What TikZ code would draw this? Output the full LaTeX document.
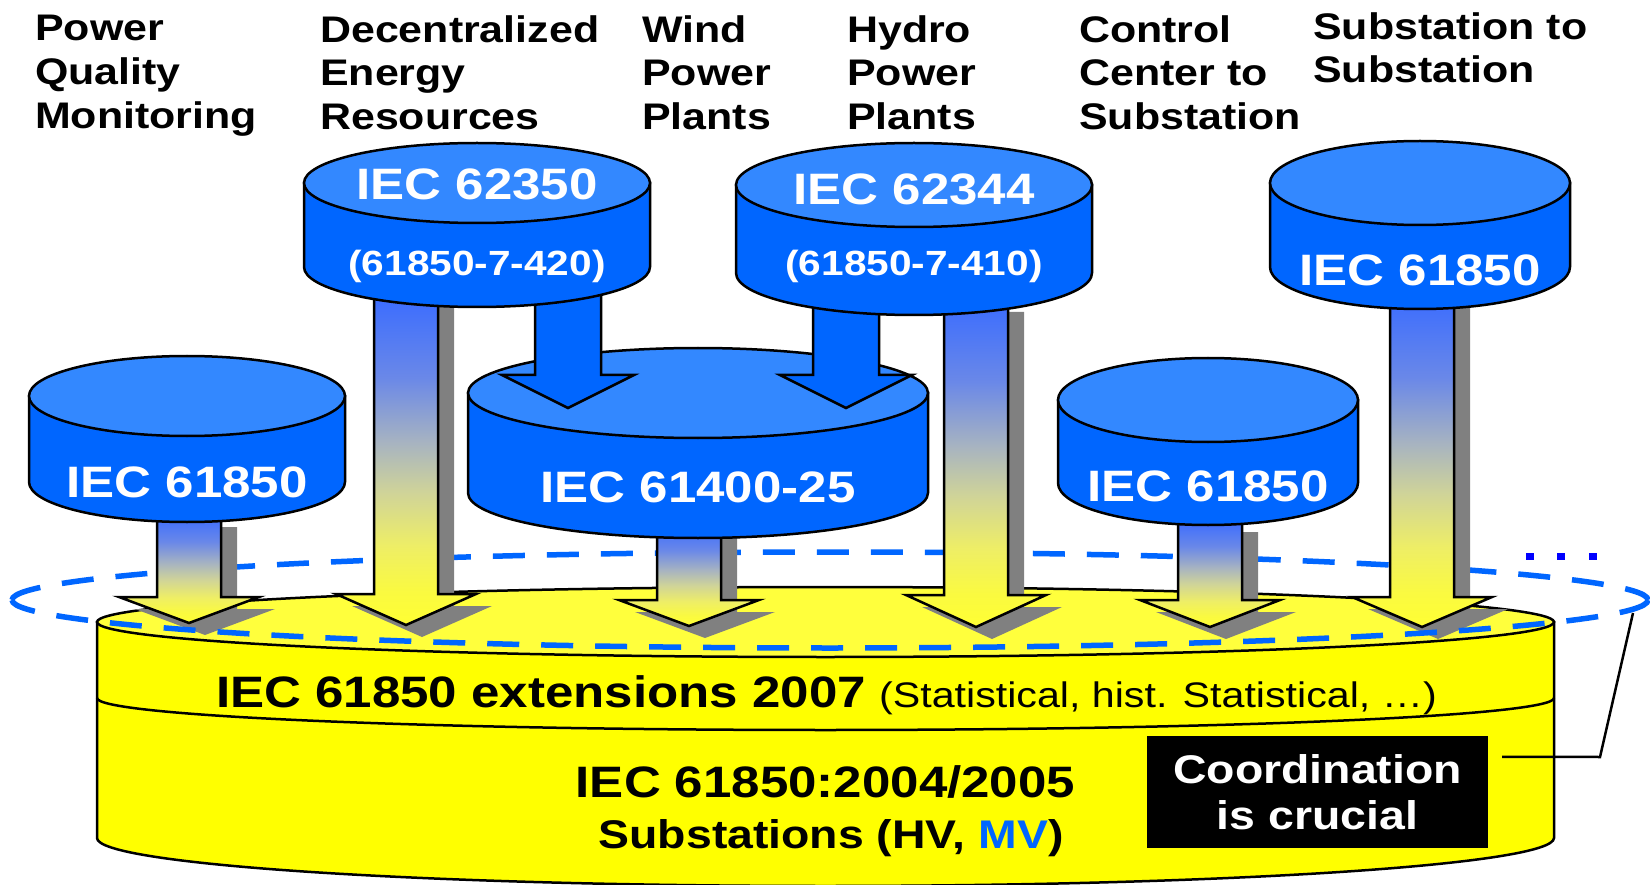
\documentclass[tikz,border=0pt]{standalone}
\usepackage{fontspec}
\setmainfont[FakeStretch=1.16]{Liberation Sans}
\usetikzlibrary{calc}
\definecolor{cyltop}{RGB}{51,136,255}
\definecolor{cylside}{RGB}{0,102,255}
\definecolor{ybody}{RGB}{255,255,0}
\definecolor{ytop}{RGB}{255,255,60}
\definecolor{dashblue}{RGB}{0,102,255}
\definecolor{dotblue}{RGB}{0,0,255}
\definecolor{shgray}{RGB}{128,128,128}
\definecolor{sA}{RGB}{255,255,51}
\definecolor{sB}{RGB}{250,250,64}
\definecolor{sC}{RGB}{238,238,102}
\definecolor{sD}{RGB}{208,212,152}
\definecolor{sE}{RGB}{168,180,192}
\definecolor{sF}{RGB}{106,136,232}
\definecolor{sG}{RGB}{58,108,255}
\pgfdeclareverticalshading{arrowshade}{100bp}{color(0bp)=(sA); color(25bp)=(sA); color(30bp)=(sB); color(37bp)=(sC); color(45bp)=(sD); color(52.5bp)=(sE); color(62.5bp)=(sF); color(75bp)=(sG); color(100bp)=(sG)}
\tikzset{
  outl/.style={draw=black,line width=2.5pt,line join=miter},
  dashell/.style={draw=dashblue,line width=5.5pt,dash pattern=on 32pt off 22pt},
  toplbl/.style={anchor=north west,inner sep=0pt,align=left,font=\bfseries\fontsize{37}{43.7}\selectfont},
  cyllbl/.style={inner sep=0pt,text=white,font=\bfseries\fontsize{44}{50}\selectfont},
  cylsub/.style={inner sep=0pt,text=white,font=\bfseries\fontsize{35}{40}\selectfont},
}
\newcommand\gradarrow[5]{%
  \coordinate (#1top) at (#2,#3);
  \coordinate (#1tip) at (#2,#5);
  \begin{scope}[shift={(#2,0)}]
    \fill[shgray] (-16,{#3+12}) -- (-16,{#4+12}) -- (-54,{#4+12}) -- (16,{#5+12}) -- (86,{#4+12}) -- (48,{#4+12}) -- (48,{#3+12}) -- cycle;
    \draw[outl,shade,shading=arrowshade] (-32,#3) -- (-32,#4) -- (-70,#4) -- (0,#5) -- (70,#4) -- (32,#4) -- (32,#3) -- cycle;
  \end{scope}}
\newcommand\bluearrow[5]{%
  \coordinate (#1top) at (#2,#3);
  \coordinate (#1tip) at (#2,#5);
  \begin{scope}[shift={(#2,0)}]
    \draw[outl,fill=cylside] (-33,#3) -- (-33,#4) -- (-66,#4) -- (0,#5) -- (66,#4) -- (33,#4) -- (33,#3) -- cycle;
  \end{scope}}
\newcommand\bluecyl[6]{%
  \begin{scope}[shift={(#2,0)}]
    \draw[outl,fill=cylside] (-#5,#3) -- (-#5,#4) arc[start angle=180,end angle=0,x radius=#5,y radius=#6] -- (#5,#3) -- cycle;
    \draw[outl,fill=cyltop] (0,#3) ellipse[x radius=#5,y radius=#6];
  \end{scope}
  \coordinate (#1) at (#2,#4);}
\begin{document}
\begin{tikzpicture}[x=1pt,y=-1pt]
\path[use as bounding box] (0,0) rectangle (1650,885);
\clip (0,0) rectangle (1650,885);
\fill[white] (0,0) rectangle (1650,885);
% yellow base cylinder
\draw[outl,fill=ybody] (97,622) -- (97,838) arc[start angle=180,end angle=0,x radius=728.5,y radius=48] -- (1554,622) -- cycle;
\draw[outl] (97,698) arc[start angle=180,end angle=0,x radius=728.5,y radius=32];
\draw[outl,fill=ytop] (825.5,622) ellipse[x radius=728.5,y radius=35];
% dashed ellipse, back half
\draw[dashell] (12,600) arc[start angle=180,end angle=360,x radius=818,y radius=48];
% gradient arrows to the base
\gradarrow{aA}{189}{515}{597}{623}
\gradarrow{aB}{406}{295}{594}{625}
\gradarrow{aC}{689}{525}{600}{626}
\gradarrow{aD}{976}{300}{595}{627}
\gradarrow{aE}{1210}{520}{600}{627}
\gradarrow{aF}{1422}{295}{597}{627}
% dashed ellipse, front half
\draw[dashell] (1648,600) arc[start angle=0,end angle=180,x radius=818,y radius=48];
% dots
\foreach \i/\xx in {1/1530,2/1561,3/1593}
  \fill[dotblue] ({\xx-4},553) rectangle ({\xx+4},560);
% blue cylinders
\bluecyl{c1}{187}{396}{482}{158}{40}
\bluecyl{c5}{1208}{400}{483}{150}{42}
\bluecyl{c4}{1420}{183}{267}{150}{42}
\bluecyl{c6}{698}{393}{493}{230}{45}
\bluearrow{aG}{568}{290}{375}{408}
\bluearrow{aH}{846}{295}{375}{408}
\bluecyl{c2}{477}{183}{267}{173}{40}
\bluecyl{c3}{914}{185}{273}{178}{42}
% cylinder labels
\node[cyllbl] (t1) at (187,482) {IEC 61850};
\node[cyllbl] (t2a) at (477,184) {IEC 62350};
\node[cylsub] (t2b) at (477,266) {(61850-7-420)};
\node[cyllbl] (t3a) at (914,189) {IEC 62344};
\node[cylsub] (t3b) at (914,266) {(61850-7-410)};
\node[cyllbl] (t4) at (1420,270) {IEC 61850};
\node[cyllbl] (t5) at (1208,486) {IEC 61850};
\node[cyllbl] (t6) at (698,487) {IEC 61400-25};
% top labels
\node[toplbl] (l1) at (35,15) {Power\\Quality\\Monitoring};
\node[toplbl] (l2) at (320,15) {Decentralized\\Energy\\Resources};
\node[toplbl] (l3) at (642,15) {Wind\\Power\\Plants};
\node[toplbl] (l4) at (847,15) {Hydro\\Power\\Plants};
\node[toplbl] (l5) at (1079,15) {Control\\Center to\\Substation};
\node[toplbl] (l6) at (1313,12) {Substation to\\Substation};
% base texts
\node[anchor=base west,inner sep=0pt] (ext) at (216,707) {{\bfseries\fontsize{44}{50}\selectfont IEC 61850 extensions 2007}\hspace{10pt} {\fontsize{35.5}{40}\selectfont (Statistical, hist. Statistical, …)}};
\node[anchor=base,inner sep=0pt,font=\bfseries\fontsize{44}{50}\selectfont] (ed1) at (825.5,797) {IEC 61850:2004/2005};
\node[anchor=base,inner sep=0pt,font=\bfseries\fontsize{40}{46}\selectfont] (sub) at (831,848) {Substations (HV, \textcolor{cylside}{MV})};
% coordination box
\node[fill=black,text=white,minimum width=341pt,minimum height=112pt,inner sep=0pt,align=center,font=\bfseries\fontsize{40}{46}\selectfont] (coord) at (1317.5,792) {Coordination\\is crucial};
\coordinate (cc1) at (1600,757);
\coordinate (cc2) at (1633,613);
\draw[black,line width=2.5pt] ($(coord.north east)+(14,21)$) -- (cc1) -- (cc2);
\end{tikzpicture}
\end{document}
